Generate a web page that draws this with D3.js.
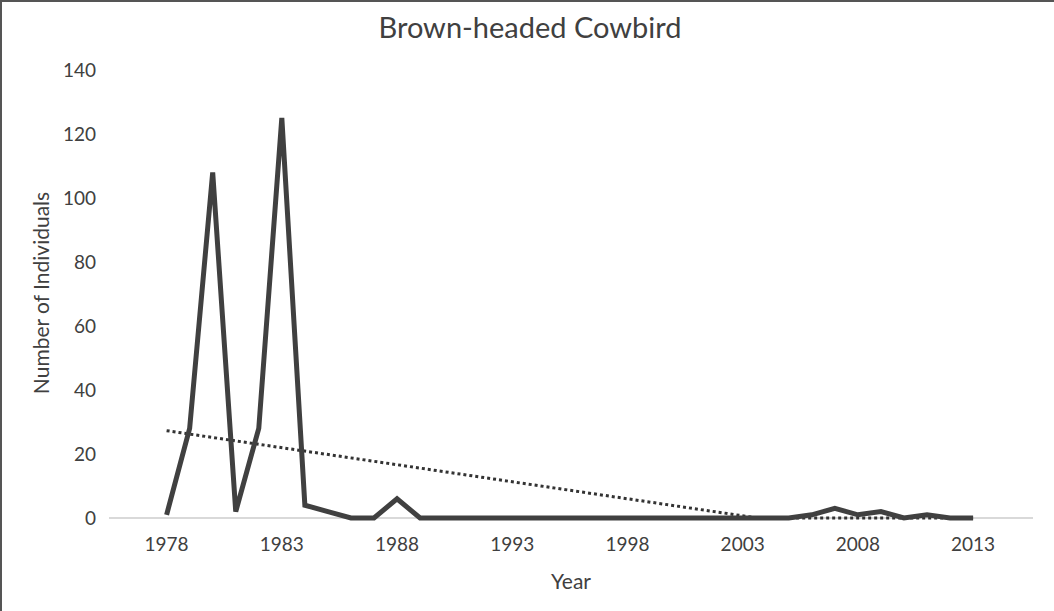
<!DOCTYPE html>
<html>
<head>
<meta charset="utf-8">
<script src="https://d3js.org/d3.v7.min.js"></script>
<style>
  body { margin: 0; background: #fff; }
  text { font-family: Lato, "Open Sans", sans-serif; fill: #404040; }
</style>
</head>
<body>
<div id="chart-area"></div>
<script>
// Brown-headed Cowbird counts per year

var years = d3.range(1978, 2014);
var counts = [1, 28, 108, 2, 28, 125, 4, 2, 0, 0,
              6, 0, 0, 0, 0, 0, 0, 0, 0, 0,
              0, 0, 0, 0, 0, 0, 0, 0, 1, 3,
              1, 2, 0, 1, 0, 0];
var xTicks = [1978, 1983, 1988, 1993, 1998, 2003, 2008, 2013];
var yTicks = [0, 20, 40, 60, 80, 100, 120, 140];

var W = 1054, H = 611;

var svg = d3.select("#chart-area")
    .append("svg")
        .attr("width", W)
        .attr("height", H);

// outer frame (top + left edges visible)
svg.append("path")
    .attr("d", "M1," + H + " V1 H" + W)
    .attr("fill", "none")
    .attr("stroke", "#555")
    .attr("stroke-width", 2);

var x = d3.scaleLinear()
    .domain([1975.5, 2015.6])
    .range([109, 1033]);

var y = d3.scaleLinear()
    .domain([0, 140])
    .range([518, 70])
    .clamp(true);

// Title
svg.append("text")
    .attr("x", 530)
    .attr("y", 38)
    .attr("font-size", "29px")
    .attr("text-anchor", "middle")
    .text("Brown-headed Cowbird");

// Y ticks
svg.selectAll(".ytick")
    .data(yTicks)
    .enter().append("text")
        .attr("class", "ytick")
        .attr("x", 96)
        .attr("y", function(d){ return y(d); })
        .attr("dy", "0.35em")
        .attr("font-size", "19px")
        .attr("text-anchor", "end")
        .text(function(d){ return d; });

// X ticks
svg.selectAll(".xtick")
    .data(xTicks)
    .enter().append("text")
        .attr("class", "xtick")
        .attr("x", function(d){ return x(d); })
        .attr("y", 551)
        .attr("font-size", "19px")
        .attr("text-anchor", "middle")
        .text(function(d){ return d; });

// baseline
svg.append("line")
    .attr("x1", x.range()[0])
    .attr("x2", x.range()[1])
    .attr("y1", y(0))
    .attr("y2", y(0))
    .attr("stroke", "#d9d9d9")
    .attr("stroke-width", 2);

// Axis titles
svg.append("text")
    .attr("x", 571)
    .attr("y", 589)
    .attr("font-size", "21px")
    .attr("text-anchor", "middle")
    .text("Year");

svg.append("text")
    .attr("transform", "translate(49,293) rotate(-90)")
    .attr("font-size", "21px")
    .attr("text-anchor", "middle")
    .text("Number of Individuals");

// Linear trend (least squares over the series)
var mx = d3.mean(years), my = d3.mean(counts);
var sxy = d3.sum(years, function(d, i){ return (d - mx) * (counts[i] - my); });
var sxx = d3.sum(years, function(d){ return (d - mx) * (d - mx); });
var slope = sxy / sxx;

var trendLine = d3.line()
    .x(function(d){ return x(d); })
    .y(function(d){ return y(my + slope * (d - mx)); });

// trend is clipped at zero: bend at the crossing year
var zeroYear = mx - my / slope;
var trendPts = [years[0], zeroYear, years[years.length - 1]];

svg.append("path")
    .datum(trendPts)
    .attr("d", trendLine)
    .attr("fill", "none")
    .attr("stroke", "#333")
    .attr("stroke-width", 3)
    .attr("stroke-dasharray", "3,3");

// Data line
var line = d3.line()
    .x(function(d, i){ return x(years[i]); })
    .y(function(d){ return y(d); });

svg.append("path")
    .datum(counts)
    .attr("d", line)
    .attr("fill", "none")
    .attr("stroke", "#404040")
    .attr("stroke-width", 5)
    .attr("stroke-linejoin", "miter");
</script>
</body>
</html>
